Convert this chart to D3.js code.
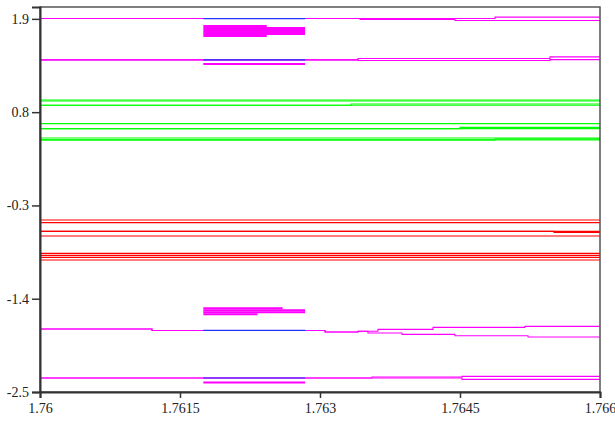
<!DOCTYPE html>
<html>
<head>
<meta charset="utf-8">
<script src="https://cdn.jsdelivr.net/npm/d3@7"></script>
<style>
  body { margin: 0; background: #fff; }
  svg text { font-family: "Liberation Serif", "Times New Roman", serif; font-size: 14px; fill: #222; }
</style>
</head>
<body>
<svg></svg>
<script>
var width = 615,
    height = 421;

// tick values and labels
var xTicks = [1.76, 1.7615, 1.763, 1.7645, 1.766];
var xTickLabels = ["1.76", "1.7615", "1.763", "1.7645", "1.766"];
var yTicks = [1.9, 0.8, -0.3, -1.4, -2.5];
var yTickLabels = ["1.9", "0.8", "-0.3", "-1.4", "-2.5"];

// step series: [x, y] breakpoints, each value holds until the next one
var magentaLines = [
  [[1.76, 1.904], [1.764875, 1.921], [1.766, 1.921]],
  [[1.76, 1.904], [1.763429, 1.892], [1.764446, 1.880], [1.766, 1.880]],
  [[1.76, 1.416], [1.763407, 1.432], [1.765464, 1.452], [1.766, 1.452]],
  [[1.76, 1.416], [1.763407, 1.410], [1.765464, 1.420], [1.766, 1.420]],
  [[1.76, -1.757], [1.7612, -1.774], [1.763054, -1.793], [1.763407, -1.783], [1.763621, -1.762], [1.764211, -1.738], [1.765196, -1.726], [1.766, -1.726]],
  [[1.76, -1.757], [1.7612, -1.774], [1.763054, -1.793], [1.763407, -1.783], [1.763514, -1.804], [1.763879, -1.821], [1.764446, -1.836], [1.765229, -1.851], [1.766, -1.851]],
  [[1.76, -2.335], [1.763557, -2.323], [1.764521, -2.316], [1.766, -2.316]],
  [[1.76, -2.335], [1.764521, -2.351], [1.766, -2.351]]
];

var greenLines = [
  [[1.76, 0.944], [1.766, 0.944]],
  [[1.76, 0.932], [1.766, 0.932]],
  [[1.76, 0.881], [1.766, 0.881]],
  [[1.76, 0.881], [1.763332, 0.897], [1.766, 0.897]],
  [[1.76, 0.665], [1.766, 0.665]],
  [[1.76, 0.606], [1.766, 0.606]],
  [[1.76, 0.606], [1.7645, 0.621], [1.766, 0.621]],
  [[1.76, 0.496], [1.766, 0.496]],
  [[1.76, 0.473], [1.766, 0.473]],
  [[1.76, 0.473], [1.764875, 0.485], [1.766, 0.485]]
];

var redLines = [
  [[1.76, -0.471], [1.766, -0.471]],
  [[1.76, -0.503], [1.766, -0.503]],
  [[1.76, -0.606], [1.766, -0.606]],
  [[1.76, -0.606], [1.765507, -0.618], [1.766, -0.618]],
  [[1.76, -0.660], [1.766, -0.660]],
  [[1.76, -0.865], [1.766, -0.865]],
  [[1.76, -0.889], [1.766, -0.889]],
  [[1.76, -0.912], [1.766, -0.912]],
  [[1.76, -0.943], [1.766, -0.943]]
];

// short segments in the middle window
var blueSegs = [
  {x0: 1.76175, x1: 1.76284, y: 1.904},
  {x0: 1.76175, x1: 1.76284, y: 1.416},
  {x0: 1.76175, x1: 1.76284, y: -1.774},
  {x0: 1.76175, x1: 1.76284, y: -2.335}
];

var magentaSegs = [
  {x0: 1.76175, x1: 1.76284, y: 1.369},
  {x0: 1.76175, x1: 1.76284, y: -2.387},
  // dense clusters
  {x0: 1.76175, x1: 1.76243, y: 1.815},
  {x0: 1.76175, x1: 1.76284, y: 1.791},
  {x0: 1.76175, x1: 1.76284, y: 1.768},
  {x0: 1.76175, x1: 1.76284, y: 1.744},
  {x0: 1.76175, x1: 1.76284, y: 1.721},
  {x0: 1.76175, x1: 1.76243, y: 1.697},
  {x0: 1.76175, x1: 1.76260, y: -1.512},
  {x0: 1.76175, x1: 1.76284, y: -1.536},
  {x0: 1.76175, x1: 1.76284, y: -1.559},
  {x0: 1.76175, x1: 1.76233, y: -1.583}
];

var svg = d3.select("svg")
    .attr("width", width)
    .attr("height", height);

var x = d3.scaleLinear().domain([1.76, 1.766]).range([40, 600]);
var y = d3.scaleLinear().domain([-2.5, 2.04]).range([392, 7]);

var line = d3.line()
    .x(function(d) { return x(d[0]); })
    .y(function(d) { return y(d[1]); })
    .curve(d3.curveStepAfter);

function drawLines(data, color) {
  svg.append("g").selectAll("path")
    .data(data)
    .enter()
    .append("path")
    .attr("d", line)
    .attr("fill", "none")
    .attr("stroke", color)
    .attr("stroke-width", 1.1);
}

drawLines(greenLines, "#00ff00");
drawLines(redLines, "#ff0000");
drawLines(magentaLines, "#ff00ff");

svg.append("g").selectAll("line")
  .data(magentaSegs)
  .enter()
  .append("line")
  .attr("x1", function(d) { return x(d.x0); })
  .attr("x2", function(d) { return x(d.x1); })
  .attr("y1", function(d) { return y(d.y); })
  .attr("y2", function(d) { return y(d.y); })
  .attr("stroke", "#ff00ff")
  .attr("stroke-width", 2);

svg.append("g").selectAll("line")
  .data(blueSegs)
  .enter()
  .append("line")
  .attr("x1", function(d) { return x(d.x0); })
  .attr("x2", function(d) { return x(d.x1); })
  .attr("y1", function(d) { return y(d.y); })
  .attr("y2", function(d) { return y(d.y); })
  .attr("stroke", "#2233ff")
  .attr("stroke-width", 1.2);

// frame
svg.append("rect")
  .attr("x", 40)
  .attr("y", 7)
  .attr("width", 560)
  .attr("height", 385)
  .attr("fill", "none")
  .attr("stroke", "#555")
  .attr("stroke-width", 1.5);

var xAxis = d3.axisBottom(x)
    .tickValues(xTicks)
    .tickSize(6)
    .tickPadding(5)
    .tickFormat(function(d, i) { return xTickLabels[i]; });

var yAxis = d3.axisLeft(y)
    .tickValues(yTicks)
    .tickSize(8)
    .tickPadding(3)
    .tickFormat(function(d, i) { return yTickLabels[i]; });

var gx = svg.append("g").attr("transform", "translate(0,392)").call(xAxis);
var gy = svg.append("g").attr("transform", "translate(40,0)").call(yAxis);

[gx, gy].forEach(function(g) {
  g.attr("font-family", null).attr("font-size", null);
  g.select(".domain").attr("stroke", "#333").attr("stroke-width", 2);
  g.selectAll(".tick line").attr("stroke", "#333").attr("stroke-width", 1.5);
});
</script>
</body>
</html>
